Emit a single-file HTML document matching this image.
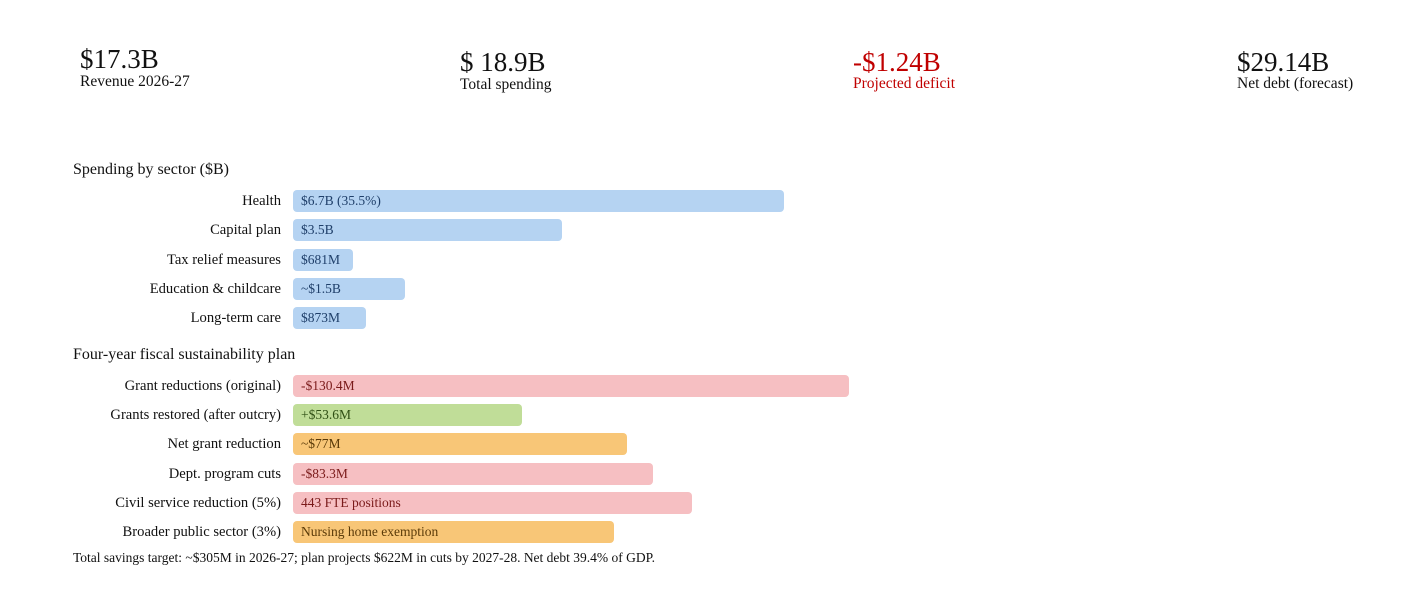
<!DOCTYPE html>
<html><head><meta charset="utf-8"><style>
body{margin:0;width:1426px;height:616px;background:#fff;font-family:"Liberation Serif",serif;color:#111;position:relative;overflow:hidden}
.a{position:absolute;white-space:nowrap}
.big{font-size:27px}
.sm{font-size:15.5px}
.lab{position:absolute;right:1145px;font-size:14.6px;line-height:22px;text-align:right;white-space:nowrap}
.bar{position:absolute;left:293px;height:22px;border-radius:4px;font-size:13.5px;line-height:22px;padding-left:8px;box-sizing:border-box;white-space:nowrap}
.b{background:#b5d3f2;color:#1f3f6a}.r{background:#f6bfc2;color:#7a1a1a}.g{background:#c0dd98;color:#2f4f14}.o{background:#f8c677;color:#5a3a08}
</style></head><body>
<div class="a big" style="left:80px;top:44px">$17.3B</div>
<div class="a sm" style="left:80px;top:73px">Revenue 2026-27</div>
<div class="a big" style="left:460px;top:47px">$ 18.9B</div>
<div class="a sm" style="left:460px;top:76px">Total spending</div>
<div class="a big" style="left:853px;top:47px;color:#c00000">-$1.24B</div>
<div class="a sm" style="left:853px;top:75px;color:#c00000">Projected deficit</div>
<div class="a big" style="left:1237px;top:47px">$29.14B</div>
<div class="a sm" style="left:1237px;top:75px">Net debt (forecast)</div>

<div class="a" style="left:73px;top:161px;font-size:16px">Spending by sector ($B)</div>
<div class="lab" style="top:190px">Health</div><div class="bar b" style="top:190px;width:491px">$6.7B (35.5%)</div>
<div class="lab" style="top:219px">Capital plan</div><div class="bar b" style="top:219px;width:269px">$3.5B</div>
<div class="lab" style="top:249px">Tax relief measures</div><div class="bar b" style="top:249px;width:60px">$681M</div>
<div class="lab" style="top:278px">Education &amp; childcare</div><div class="bar b" style="top:278px;width:112px">~$1.5B</div>
<div class="lab" style="top:307px">Long-term care</div><div class="bar b" style="top:307px;width:73px">$873M</div>

<div class="a" style="left:73px;top:346px;font-size:16px">Four-year fiscal sustainability plan</div>
<div class="lab" style="top:375px">Grant reductions (original)</div><div class="bar r" style="top:375px;width:556px">-$130.4M</div>
<div class="lab" style="top:404px">Grants restored (after outcry)</div><div class="bar g" style="top:404px;width:229px">+$53.6M</div>
<div class="lab" style="top:433px">Net grant reduction</div><div class="bar o" style="top:433px;width:334px">~$77M</div>
<div class="lab" style="top:463px">Dept. program cuts</div><div class="bar r" style="top:463px;width:360px">-$83.3M</div>
<div class="lab" style="top:492px">Civil service reduction (5%)</div><div class="bar r" style="top:492px;width:399px">443 FTE positions</div>
<div class="lab" style="top:521px">Broader public sector (3%)</div><div class="bar o" style="top:521px;width:321px">Nursing home exemption</div>
<div class="a" style="left:73px;top:550px;font-size:13.5px">Total savings target: ~$305M in 2026-27; plan projects $622M in cuts by 2027-28. Net debt 39.4% of GDP.</div>
</body></html>
